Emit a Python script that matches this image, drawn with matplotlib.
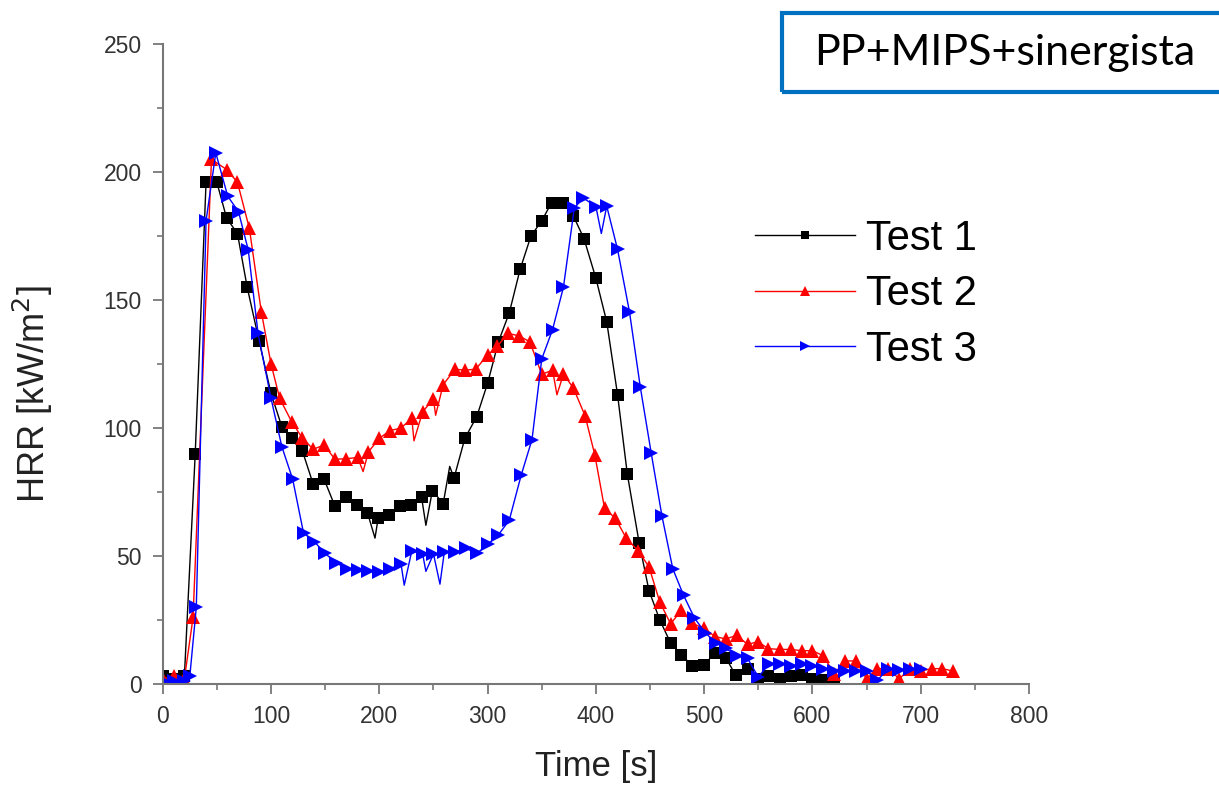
import numpy as np
import matplotlib.pyplot as plt
from matplotlib.patches import Rectangle

# values (marker points, ~10 s apart)
t1 = [0, 10, 20, 30, 40, 50, 59, 69, 78, 89, 100, 110, 119, 129, 139, 149, 159, 169, 179, 189,
      199, 209, 219, 229, 239, 249, 259, 269, 279, 290, 300, 310, 320, 330, 340, 350, 359, 370,
      379, 389, 400, 410, 420, 429, 440, 449, 459, 469, 479, 489, 500, 510, 520, 529, 540, 550,
      559, 570, 580, 590, 600, 610, 620]
hrr1 = [3, 2, 3, 90, 196, 196, 182, 176, 155, 134, 113.5, 100.5, 96, 91, 78, 80, 69.5, 73, 70, 67,
        65, 66, 69.5, 70, 73, 75.5, 70.5, 80.5, 96, 104.5, 117.5, 133.7, 145, 162, 175, 181, 188, 188,
        183, 174, 158.5, 141.5, 113, 82, 55, 36.5, 25, 16, 11.3, 7.2, 7.4, 12.3, 10.2, 3.5, 6, 2,
        3, 2, 3, 3.5, 2, 1.5, 1]

t2 = [0, 10, 20, 28, 45, 59, 69, 80, 91, 100, 108, 119, 129, 139, 149, 159, 169, 180, 190, 200,
      210, 220, 230, 240, 250, 259, 270, 279, 289, 300, 309, 319, 329, 339, 350, 360, 370, 379,
      390, 399, 408, 418, 428, 439, 449, 459, 469, 479, 489, 500, 510, 520, 530, 540, 550, 559,
      570, 580, 590, 600, 610, 620, 630, 640, 650, 660, 670, 680, 690, 700, 710, 720, 730]
hrr2 = [2, 3, 2, 26, 205, 201, 196, 178, 145.5, 125, 111.6, 102.5, 96, 91.7, 93.4, 87.8, 88, 88.5, 90.7, 96,
        99, 100, 103.8, 106.4, 111.3, 117, 123, 122.6, 123, 128.5, 132, 137, 136, 133.7, 121, 122.6, 121, 115.8,
        104.8, 89.5, 68.6, 64.7, 57, 52, 45.8, 32, 23.5, 28.8, 23.7, 21.7, 18.5, 17.6, 19, 15.5, 16.5, 13.8,
        13.5, 13.5, 13, 13, 11, 4, 9, 9, 2, 6, 6, 2, 6, 5, 6, 6, 5]

t3 = [0, 10, 20, 25, 31, 40, 49, 60, 70, 79, 88, 100, 110, 120, 130, 140, 150, 160, 170, 180,
      190, 200, 210, 220, 230, 240, 250, 260, 270, 280, 290, 300, 310, 320, 331, 341, 350, 360,
      370, 380, 388, 400, 410, 420, 431, 441, 451, 461, 471, 481, 491, 501, 511, 520, 530, 540,
      550, 560, 570, 580, 590, 600, 610, 620, 630, 640, 650, 660, 670, 680, 690, 700]
hrr3 = [1, 1, 1, 3, 30, 181, 207.5, 190.6, 184.5, 169.5, 137, 111.6, 92.7, 80, 59, 55.6, 51, 47.4, 45, 44.5,
        44, 43.6, 45, 47, 52, 50.8, 50.8, 51.5, 51.5, 53, 51, 54.5, 58.3, 64, 81.6, 95.5, 127, 138.5,
        155, 185.8, 190, 186.5, 186.7, 169.8, 145.4, 116, 90.4, 65.6, 45, 34.6, 25.8, 20, 16, 13.9, 11, 10,
        2.7, 8, 8, 7, 8, 7, 6, 5, 5, 5, 5, 1.5, 6, 5.5, 6, 6]

# short noise spikes in the lines (no marker on them)
spk_t1 = [196, 243, 265]
spk_h1 = [57, 62, 85]
spk_t2 = [185, 232, 252, 364]
spk_h2 = [83, 95, 105, 113]
spk_t3 = [223, 243, 256, 405]
spk_h3 = [38.6, 44, 39, 176]


def with_spikes(t, h, st, sh):
    tt = np.array(list(t) + list(st), dtype=float)
    hh = np.array(list(h) + list(sh), dtype=float)
    is_mark = np.array([True] * len(t) + [False] * len(st))
    order = np.argsort(tt, kind='stable')
    return tt[order], hh[order], is_mark[order]


plt.rcParams['font.family'] = ['Liberation Sans', 'DejaVu Sans']

fig = plt.figure(figsize=(12.19, 7.88), dpi=100)
ax = fig.add_axes([0.1335, 0.132, 0.7107, 0.812])

series = [
    (t1, hrr1, spk_t1, spk_h1, 'black', 's', 8, "Test 1"),
    (t2, hrr2, spk_t2, spk_h2, 'red', '^', 9.5, "Test 2"),
    (t3, hrr3, spk_t3, spk_h3, 'blue', '>', 9.5, "Test 3"),
]
for t, h, st, sh, col, mk, ms, lab in series:
    tt, hh, mask = with_spikes(t, h, st, sh)
    ax.plot(tt, hh, color=col, lw=1.0, marker=mk, markersize=ms, markevery=list(mask),
            markeredgewidth=0, label=lab)

ax.set_xlim(0, 800)
ax.set_ylim(0, 250)
ax.set_xticks(np.arange(0, 801, 100))
ax.set_xticks(np.arange(0, 801, 50), minor=True)
ax.set_yticks(np.arange(0, 251, 50))
ax.set_yticks(np.arange(0, 251, 25), minor=True)

for side in ['top', 'right']:
    ax.spines[side].set_visible(False)
for side in ['left', 'bottom']:
    ax.spines[side].set_color('#777777')
    ax.spines[side].set_linewidth(1.5)

ax.tick_params(which='major', direction='out', length=7, width=1.3, color='#777777',
               labelsize=16.5, labelcolor='#333333', pad=8)
ax.tick_params(which='minor', direction='out', length=4, width=1.2, color='#777777')

ax.set_xlabel("Time [s]", fontsize=25, labelpad=16, color='#222222')
ax.set_ylabel("HRR [kW/m$^2$]", fontsize=26, color='#222222')
ax.yaxis.set_label_coords(-0.124, 0.453)

ax.legend(loc='upper left', bbox_to_anchor=(0.684, 0.727), frameon=False, fontsize=30,
          handlelength=2.4, handletextpad=0.25, labelspacing=0.37, borderpad=0,
          borderaxespad=0, markerscale=0.7)

# boxed label in the top right corner
fig.patches.append(Rectangle((782 / 1219, 1 - 92 / 788), 460 / 1219, 79 / 788,
                             transform=fig.transFigure, fill=False, edgecolor='#0070C0',
                             linewidth=3, clip_on=False))
fig.text(1005 / 1219, 1 - 53 / 788, "PP+MIPS+sinergista", ha='center', va='center',
         fontsize=31, family=['Lato', 'DejaVu Sans'], color='black')

plt.savefig("out.png", dpi=100)
